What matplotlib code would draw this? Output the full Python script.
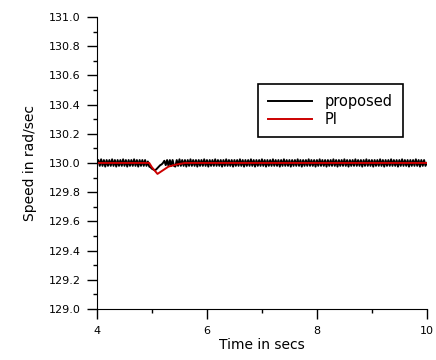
import numpy as np
import matplotlib
matplotlib.use("Agg")
import matplotlib.pyplot as plt

# speed response of the proposed controller, sampled every 0.025 s from t = 4 to t = 10
t_start, t_end = 4.0, 10.0
proposed = [
    130.00, 130.02, 129.98, 130.025, 129.98, 130.02, 129.975, 130.02, 129.98, 130.02,
    129.98, 130.025, 129.98, 130.02, 129.975, 130.02, 129.98, 130.02, 129.98, 130.025,
    129.98, 130.02, 129.975, 130.02, 129.98, 130.02, 129.98, 130.025, 129.98, 130.02,
    129.975, 130.02, 129.98, 130.02, 129.98, 130.02, 129.98, 130.01, 129.975, 129.97,
    129.96, 129.955, 129.95, 129.955, 129.965, 129.975, 129.985, 129.99, 130.00, 130.015,
    129.985, 130.02, 129.98, 130.02, 129.98, 130.02, 129.98, 129.975, 130.02, 129.98,
    130.025, 129.98, 130.02, 129.98, 130.02, 129.975, 130.02, 129.98, 130.025, 129.98,
    130.02, 129.98, 130.02, 129.975, 130.02, 129.98, 130.02, 129.98, 130.025, 129.98,
    130.02, 129.975, 130.02, 129.98, 130.02, 129.98, 130.025, 129.98, 130.02, 129.98,
    130.02, 129.975, 130.02, 129.98, 130.025, 129.98, 130.02, 129.98, 130.02, 129.975,
    130.02, 129.98, 130.02, 129.98, 130.025, 129.98, 130.02, 129.975, 130.02, 129.98,
    130.02, 129.98, 130.025, 129.98, 130.02, 129.975, 130.02, 129.98, 130.02, 129.98,
    130.025, 129.98, 130.02, 129.975, 130.02, 129.98, 130.02, 129.98, 130.025, 129.98,
    130.02, 129.98, 130.02, 129.975, 130.02, 129.98, 130.025, 129.98, 130.02, 129.98,
    130.02, 129.975, 130.02, 129.98, 130.02, 129.98, 130.025, 129.98, 130.02, 129.975,
    130.02, 129.98, 130.02, 129.98, 130.025, 129.98, 130.02, 129.98, 130.02, 129.975,
    130.02, 129.98, 130.025, 129.98, 130.02, 129.98, 130.02, 129.975, 130.02, 129.98,
    130.02, 129.98, 130.025, 129.98, 130.02, 129.975, 130.02, 129.98, 130.02, 129.98,
    130.025, 129.98, 130.02, 129.975, 130.02, 129.98, 130.02, 129.98, 130.025, 129.98,
    130.02, 129.98, 130.02, 129.975, 130.02, 129.98, 130.025, 129.98, 130.02, 129.98,
    130.02, 129.975, 130.02, 129.98, 130.02, 129.98, 130.025, 129.98, 130.02, 129.975,
    130.02, 129.98, 130.02, 129.98, 130.025, 129.98, 130.02, 129.98, 130.02, 129.975,
    130.02, 129.98, 130.025, 129.98, 130.02, 129.98, 130.02, 129.975, 130.02, 129.98,
    130.02, 129.98, 130.025, 129.98, 130.02, 129.975, 130.02, 129.98, 130.02, 129.98,
    130.00,
]
# PI controller response (breakpoints)
pi_time = [4.0, 4.95, 5.0, 5.1, 5.2, 5.3, 5.45, 5.6, 10.0]
pi_speed = [130.0, 130.0, 129.97, 129.925, 129.95, 129.975, 129.99, 130.0, 130.0]

labels = ["proposed", "PI"]

plt.rcParams['font.family'] = ['DejaVu Sans']

fig = plt.figure(figsize=(4.36, 3.6), dpi=100)
ax = fig.add_axes([0.2225, 0.1417, 0.7565, 0.8113])

t = np.linspace(t_start, t_end, len(proposed))
ax.plot(t, proposed, color="black", lw=1.4, label=labels[0])
ax.plot(pi_time, pi_speed, color="#cc0000", lw=1.4, label=labels[1])

ax.set_xlim(4, 10)
ax.set_ylim(129.0, 131.0)
ax.set_xticks([4, 6, 8, 10])
ax.set_xticks([5, 7, 9], minor=True)
yt = np.arange(129.0, 131.01, 0.2)
ax.set_yticks(yt)
ax.set_yticks(np.arange(129.1, 131.0, 0.2), minor=True)
ax.set_yticklabels(["%.1f" % v for v in yt])

for side in ["top", "right"]:
    ax.spines[side].set_visible(False)
ax.tick_params(which="major", direction="out", length=7, width=1, labelsize=8, pad=5)
ax.tick_params(which="minor", direction="out", length=3, width=1)

ax.set_xlabel("Time in secs", fontsize=10, labelpad=2)
ax.set_ylabel("Speed in rad/sec", fontsize=10, labelpad=8)

leg = ax.legend(loc="upper left", bbox_to_anchor=(0.488, 0.77), fontsize=10.5,
                fancybox=False, edgecolor="black", framealpha=1,
                handlelength=3.0, handletextpad=0.9, borderpad=0.7,
                labelspacing=0.2, borderaxespad=0)
leg.get_frame().set_linewidth(1.2)

fig.savefig("out.png", dpi=100)
